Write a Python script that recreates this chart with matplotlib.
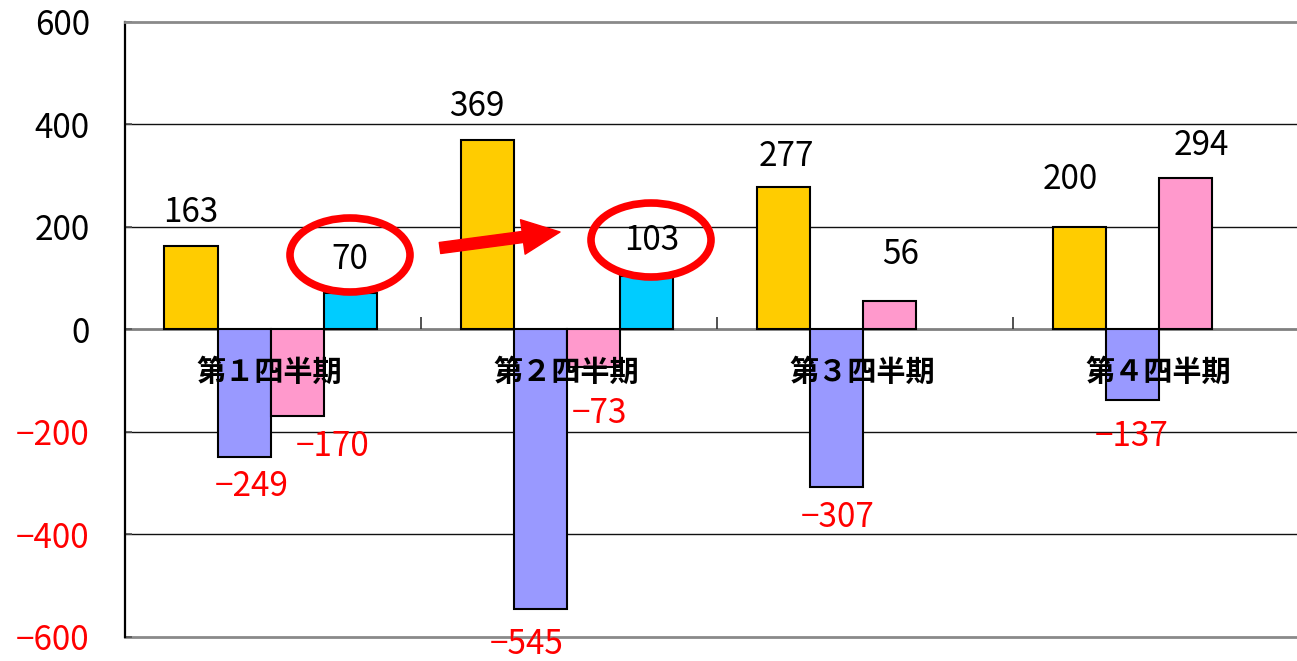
import matplotlib
matplotlib.use("Agg")
import matplotlib.pyplot as plt
from matplotlib.patches import Ellipse, FancyArrowPatch

plt.rcParams['font.family'] = ['Noto Sans CJK JP', 'DejaVu Sans']

# ---- data ----
categories = ['第１四半期', '第２四半期', '第３四半期', '第４四半期']
series_yellow = [163, 369, 277, 200]
series_blue = [-249, -545, -307, -137]
series_pink = [-170, -73, 56, 294]
series_cyan = [70, 103, None, None]
y_ticks = [-600, -400, -200, 0, 200, 400, 600]

series = [series_yellow, series_blue, series_pink, series_cyan]
colors = ['#FFCC00', '#9999FF', '#FF99CC', '#00CCFF']

# label offsets in pixels (dx, dy) from bar end, per series/category
label_offsets = [
    [(0, 33), (-11, 33), (3, 31), (-10, 47)],
    [(8, -30), (-14, -36), (1, -31), (-1, -37)],
    [(36, -30), (6, -47), (11, 46), (15, 33)],
    [(0, 34), (5, 36), None, None],
]

W, H = 1297, 661
fig = plt.figure(figsize=(W / 100, H / 100), dpi=100)
ax = fig.add_axes([124.5 / W, 1 - 637 / H, (1309.6 - 124.5) / W, (637 - 21.5) / H])
ax.set_xlim(0, 4)
ax.set_ylim(-600, 600)

# gridlines
for g in [400, 200, -200, -400]:
    ax.axhline(g, color='#111111', lw=1.0, zorder=0)
ax.axhline(-600, color='#8a8a8a', lw=2.0, zorder=0, clip_on=False)

# spines
ax.spines['right'].set_visible(False)
ax.spines['top'].set_color('#8a8a8a')
ax.spines['top'].set_linewidth(2.0)
ax.spines['left'].set_color('black')
ax.spines['left'].set_linewidth(1.6)
ax.spines['bottom'].set_position(('data', 0))
ax.spines['bottom'].set_color('#808080')
ax.spines['bottom'].set_linewidth(2.0)
ax.spines['bottom'].set_zorder(1)

# bars
off, bw = 0.135, 0.179
for j, (vals, col) in enumerate(zip(series, colors)):
    for i, v in enumerate(vals):
        if v is None:
            continue
        x0 = i + off + j * bw
        ax.bar(x0, v, width=bw, align='edge', color=col, edgecolor='black',
               linewidth=1.5, zorder=3)
        dx, dy = label_offsets[j][i]
        txt = str(v) if v >= 0 else '−' + str(-v)
        ax.annotate(txt, (x0 + bw / 2, v), xytext=(dx, dy), textcoords='offset pixels',
                    ha='center', va='center', fontsize=24,
                    color='black' if v >= 0 else '#FF0000', zorder=6)

# category labels
for i, c in enumerate(categories):
    ax.text(i + 0.49, -83, c, ha='center', va='center', fontsize=21,
            fontweight='bold', color='black', zorder=7)

# ticks
ax.set_xticks([1, 2, 3])
ax.set_xticklabels([])
ax.tick_params(axis='x', direction='in', length=9, width=1.2, color='#333333')
ax.set_yticks(y_ticks)
ax.set_yticklabels([str(t) if t >= 0 else '−' + str(-t) for t in y_ticks])
ax.tick_params(axis='y', direction='in', length=5, width=1.2, pad=25, labelsize=24,
               color='#555555')
for lbl, t in zip(ax.get_yticklabels(), y_ticks):
    lbl.set_color('#FF0000' if t < 0 else 'black')

# annotations: ellipses and arrow (figure pixel coords)
def fx(px):
    return px / W

def fy(py):
    return 1 - py / H

for cx, cy in [(350, 255), (651, 240)]:
    e = Ellipse((fx(cx), fy(cy)), 120 / W, 74 / H, transform=fig.transFigure,
                fill=False, edgecolor='#FF0000', linewidth=5.5, zorder=10)
    fig.patches.append(e)

arrow = FancyArrowPatch((fx(440), fy(248)), (fx(560), fy(232)), transform=fig.transFigure,
                        arrowstyle='simple,head_width=25,head_length=27,tail_width=8',
                        mutation_scale=1, shrinkA=0, shrinkB=0,
                        color='#FF0000', zorder=10)
fig.patches.append(arrow)

fig.savefig('out.png', dpi=100)
